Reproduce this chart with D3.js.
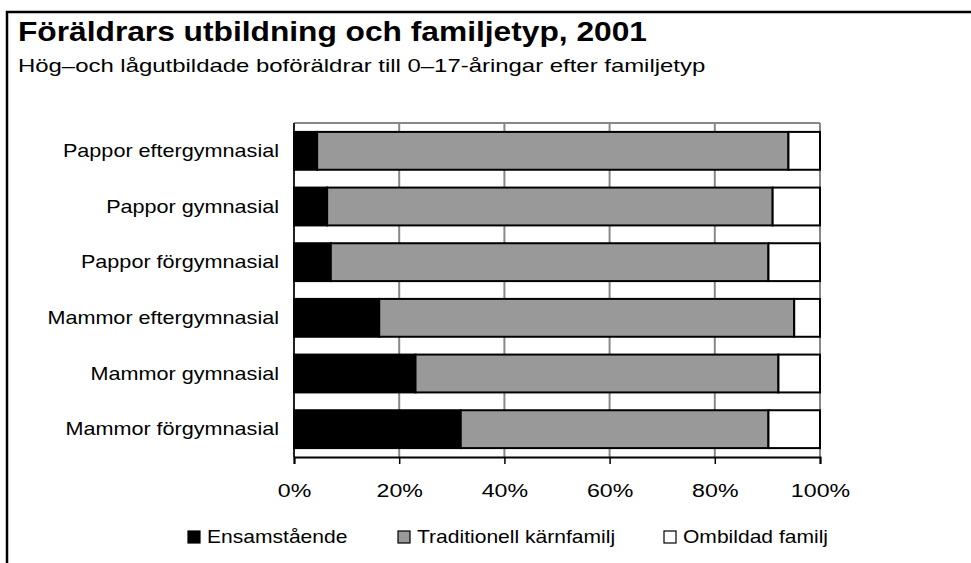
<!DOCTYPE html>
<html><head><meta charset="utf-8">
<script src="https://cdn.jsdelivr.net/npm/d3@7"></script>
<style>html,body{margin:0;padding:0;background:#fff;overflow:hidden;} svg{display:block;} text{font-family:"Liberation Sans",Arial,sans-serif;fill:#000;}</style>
</head><body>
<svg id="c" width="971" height="563"></svg>
<script>
const categories = ["Pappor eftergymnasial","Pappor gymnasial","Pappor förgymnasial","Mammor eftergymnasial","Mammor gymnasial","Mammor förgymnasial"];
const seriesNames = ["Ensamstående","Traditionell kärnfamilj","Ombildad familj"];
const ensamstaende = [4.4, 6.3, 7.0, 16.2, 23.1, 31.7];
const traditionell = [89.6, 84.7, 83.2, 78.9, 69.0, 58.5];
const ombildad = [6.0, 9.0, 9.8, 4.9, 7.9, 9.8];
const tickValues = [0, 20, 40, 60, 80, 100];
const colors = ["#000000", "#999999", "#ffffff"];

const SX = 1.2; // horizontal stretch of the reference's type
const svg = d3.select("#c");
function stext(parent, x, y, str, size, anchor, weight, sx) {
  return parent.append("text")
    .attr("transform", `translate(${x},${y}) scale(${sx || SX},1)`)
    .attr("text-anchor", anchor || "start")
    .attr("font-size", size)
    .attr("font-weight", weight || "normal")
    .text(str);
}

// outer frame (only left and top edges are visible in the reference)
svg.append("path").attr("d","M7,600 L7,12 L1000,12").attr("fill","none")
  .attr("stroke","#000").attr("stroke-width",2.5);

stext(svg, 18, 41, "Föräldrars utbildning och familjetyp, 2001", 27, "start", "bold", 1.175);
stext(svg, 18, 72, "Hög–och lågutbildade boföräldrar till 0–17-åringar efter familjetyp", 18, "start", "normal", 1.33);

const m = {l:294, r:820, t:123, b:457};
const x = d3.scaleLinear().domain([0,100]).range([m.l, m.r]);
const y = d3.scaleBand().domain(categories).range([m.t, m.b]).paddingInner(0.32).paddingOuter(0.16);

const g = svg.append("g");
g.selectAll("line.grid").data(tickValues).join("line")
  .attr("x1",d=>x(d)).attr("x2",d=>x(d)).attr("y1",m.t).attr("y2",m.b)
  .attr("stroke","#888").attr("stroke-width",2);
g.append("line").attr("x1",m.l).attr("x2",m.r).attr("y1",m.t).attr("y2",m.t).attr("stroke","#888").attr("stroke-width",2);

const data = categories.map((c,i)=>({cat:c, "Ensamstående":ensamstaende[i], "Traditionell kärnfamilj":traditionell[i], "Ombildad familj":ombildad[i]}));
const stack = d3.stack().keys(seriesNames)(data);
stack.forEach((s,si)=>{
  g.selectAll("rect.s"+si).data(s).join("rect")
    .attr("x",d=>x(d[0])).attr("width",d=>x(d[1])-x(d[0]))
    .attr("y",d=>y(d.data.cat)).attr("height",y.bandwidth())
    .attr("fill",colors[si]).attr("stroke","#000").attr("stroke-width",2);
});

g.append("line").attr("x1",m.l).attr("x2",m.l).attr("y1",m.t).attr("y2",m.b).attr("stroke","#000").attr("stroke-width",1.5);

// x axis
const xAxis = d3.axisBottom(x).tickValues(tickValues).tickFormat(d=>d+"%").tickSize(7);
const ax = svg.append("g").attr("transform",`translate(0,${m.b})`).call(xAxis);
ax.select(".domain").attr("stroke","#000").attr("stroke-width",2);
ax.selectAll(".tick line").attr("stroke","#000").attr("stroke-width",1.5);
ax.selectAll(".tick text").remove();
ax.selectAll(".tick").each(function(d){
  stext(d3.select(this), 0, 40, d+"%", 19, "middle", "normal", 1.22);
});

// category labels
const yAxis = d3.axisLeft(y).tickSize(0);
const ay = svg.append("g").attr("transform",`translate(${m.l},0)`).call(yAxis);
ay.select(".domain").remove();
ay.selectAll(".tick text").remove();
ay.selectAll(".tick").each(function(d){
  stext(d3.select(this), -15, 6, d, 18, "end", "normal", 1.2);
});

// legend
const legX = [188, 398, 664];
const lg = svg.append("g");
seriesNames.forEach((n,i)=>{
  lg.append("rect").attr("x",legX[i]).attr("y",531).attr("width",12).attr("height",12)
    .attr("fill",colors[i]).attr("stroke","#000").attr("stroke-width",1.2);
  stext(lg, legX[i]+19, 543, n, 18, "start", "normal", 1.17);
});
</script>
</body></html>
